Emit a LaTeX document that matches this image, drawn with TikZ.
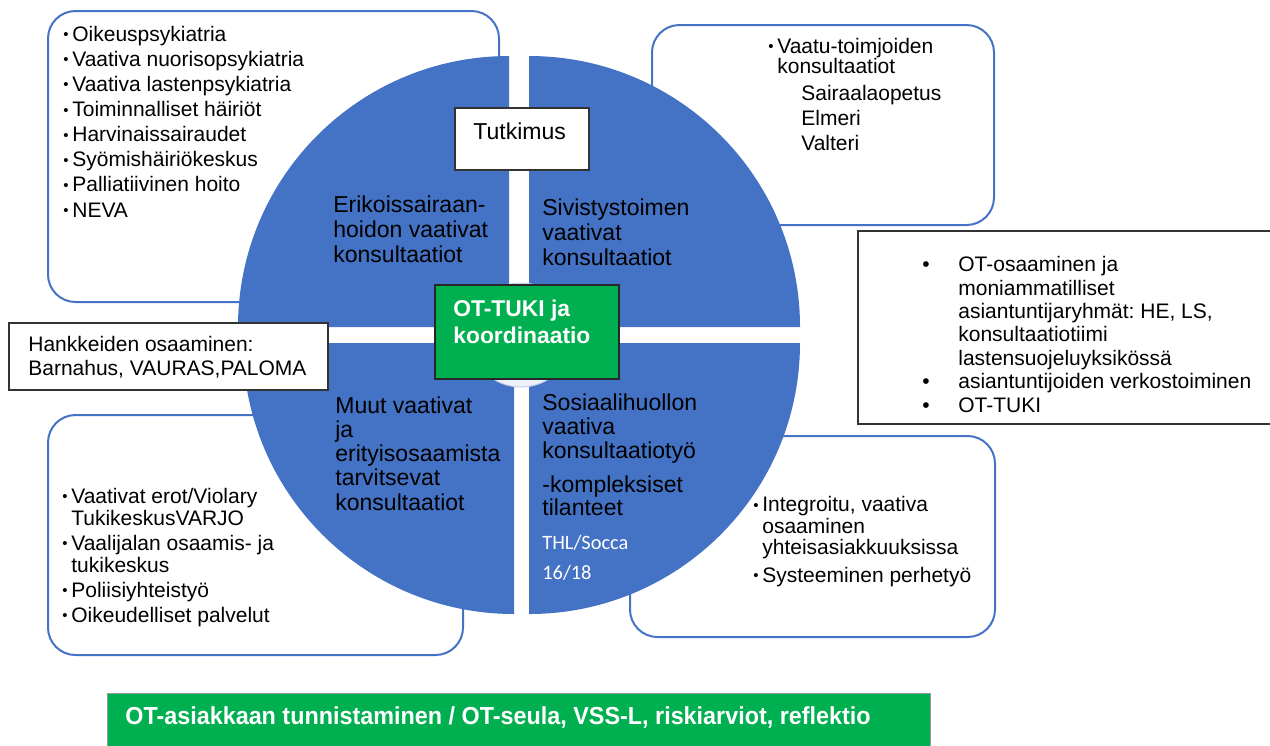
\documentclass[tikz,border=0pt]{standalone}
\usepackage{fontspec}
\setmainfont{Liberation Sans}
\newfontfamily\calibrifont{Carlito}
\newfontfamily\narrowfont[FakeStretch=0.95]{Liberation Sans}
\frenchspacing
\definecolor{segblue}{HTML}{4472C4}
\definecolor{okgreen}{HTML}{00B050}
\definecolor{innerwhite}{HTML}{EEF1F8}
\definecolor{innerline}{HTML}{C5CFE6}
\newcommand{\bul}{\makebox[0.18cm][l]{\raisebox{0.03cm}{\fontsize{8.5}{8.5}\selectfont •}}}
\newcommand{\bigbul}{\makebox[0.72cm][l]{•}}
\newcommand{\ind}[1]{\hspace*{#1}}

\begin{document}
\begin{tikzpicture}[x=0.02cm,y=-0.02cm,
	roundbox/.style={draw=segblue,line width=0.04cm,rounded corners=0.55cm},
	sqbox/.style={draw=black!80,line width=0.03cm,fill=white},
	quarter/.style={fill=segblue},
	listtext/.style={anchor=base west,inner sep=0pt,align=left,font=\fontsize{11.95}{14.3}\selectfont},
	segtext/.style={anchor=base west,inner sep=0pt,align=left,font=\fontsize{13.1}{14}\selectfont}]
	\useasboundingbox (0,0) rectangle (1270,745);
	\draw[roundbox] (48,11) rectangle (499,302);
	\draw[roundbox] (652,25) rectangle (994,225);
	\draw[roundbox] (48,415) rectangle (463,655);
	\draw[roundbox] (630,436) rectangle (995,637);
	\draw[sqbox] (858,231) rectangle (1275,424);
	\fill[quarter] (509,327) -- (509,56) arc[start angle=270,end angle=180,radius=271] -- cycle;
	\fill[quarter] (529,327) -- (529,56) arc[start angle=270,end angle=360,radius=271] -- cycle;
	\fill[quarter] (514,343) -- (514,614) arc[start angle=90,end angle=180,radius=271] -- cycle;
	\fill[quarter] (529,343) -- (529,614) arc[start angle=90,end angle=0,radius=271] -- cycle;
	\draw[fill=innerwhite,draw=innerline,line width=0.02cm] (521,335) circle[radius=52];
	\draw[sqbox] (455,108) rectangle (589,170);
	\draw[sqbox] (9,323) rectangle (328,390);
	\draw[draw=black!85,line width=0.03cm,fill=okgreen] (435,285) rectangle (619,379);
	\draw[draw=black!40,line width=0.02cm,fill=okgreen] (107,693) rectangle (930,760);

	\node[listtext] (hoito) at (63,217) {\bul Oikeuspsykiatria\\ \bul Vaativa nuorisopsykiatria\\ \bul Vaativa lastenpsykiatria\\ \bul Toiminnalliset häiriöt\\ \bul Harvinaissairaudet\\ \bul Syömishäiriökeskus\\ \bul Palliatiivinen hoito\\ \bul NEVA};
	\node[listtext,font=\fontsize{11.95}{14.2}\selectfont] (vaatu) at (768,150) {\bul Vaatu-toimjoiden\\[-2.8pt] \ind{0.18cm}konsultaatiot\\[1.1pt] \ind{0.66cm}Sairaalaopetus\\ \ind{0.66cm}Elmeri\\ \ind{0.66cm}Valteri};
	\node[listtext,font=\fontsize{11.95}{13.3}\selectfont] (otosaa) at (922,412) {\bigbul OT-osaaminen ja\\ \ind{0.72cm}moniammatilliset\\ \ind{0.72cm}asiantuntijaryhmät: HE, LS,\\ \ind{0.72cm}konsultaatiotiimi\\ \ind{0.72cm}lastensuojeluyksikössä\\ \bigbul asiantuntijoiden verkostoiminen\\ \bigbul OT-TUKI};
	\node[listtext,font=\fontsize{11.95}{13.6}\selectfont] (hankkeet) at (28,375) {Hankkeiden osaaminen:\\ Barnahus, VAURAS,PALOMA};
	\node[listtext,font=\fontsize{11.95}{14.2}\selectfont] (muut) at (62,622) {\bul Vaativat erot/Violary\\[-1.7pt] \ind{0.18cm}TukikeskusVARJO\\ \bul Vaalijalan osaamis- ja\\[-1.7pt] \ind{0.18cm}tukikeskus\\ \bul Poliisiyhteistyö\\ \bul Oikeudelliset palvelut};
	\node[listtext,font=\fontsize{11.95}{12}\selectfont] (integ) at (753,582) {\bul Integroitu, vaativa\\[0.5pt] \ind{0.18cm}osaaminen\\ \ind{0.18cm}yhteisasiakkuuksissa\\[3.4pt] \bul Systeeminen perhetyö};

	\node[segtext] (erikois) at (333,262) {Erikoissairaan-\\ hoidon vaativat\\ konsultaatiot};
	\node[segtext] (sivistys) at (542,265) {Sivistystoimen\\ vaativat\\ konsultaatiot};
	\node[segtext,font=\fontsize{13.1}{13.8}\selectfont] (erityis) at (335,510) {Muut vaativat\\ ja\\ erityisosaamista\\ tarvitsevat\\ konsultaatiot};
	\node[segtext,font=\fontsize{13.1}{13.6}\selectfont] (sosiaali) at (542,515) {Sosiaalihuollon\\ vaativa\\ konsultaatiotyö\\[5.7pt] -kompleksiset\\[-0.6pt] tilanteet};
	\node[anchor=base west,inner sep=0pt,align=left,text=white,font=\calibrifont\fontsize{11.6}{17}\selectfont] (socca) at (542,579) {THL/Socca\\ 16/18};

	\node[segtext] (tutkimus) at (473,139) {Tutkimus};
	\node[segtext,text=white,font=\bfseries\fontsize{13}{15.3}\selectfont] (ottuki) at (453,343) {OT-TUKI ja\\ koordinaatio};
	\node[anchor=base west,inner sep=0pt,text=white,font=\narrowfont\bfseries\fontsize{14}{16}\selectfont] (tunnistus) at (125,724) {OT-asiakkaan tunnistaminen / OT-seula, VSS-L, riskiarviot, reflektio};
\end{tikzpicture}
\end{document}
